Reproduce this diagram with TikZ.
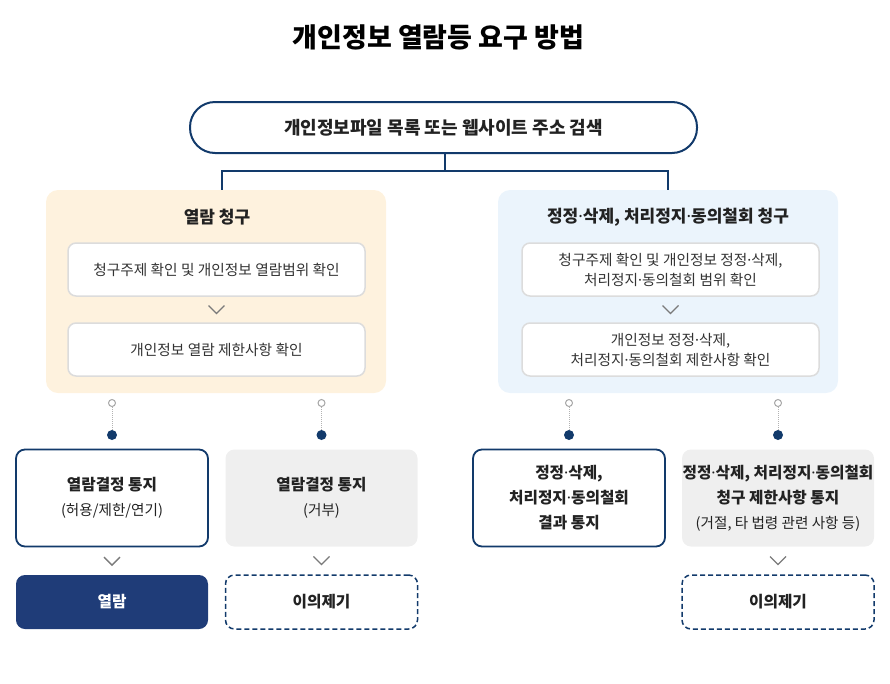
\documentclass[tikz,border=0pt]{standalone}
\usepackage{fontspec}
\setmainfont{Noto Sans CJK KR}
\newfontfamily\latinfont{Noto Sans}
\newcommand\md{{\latinfont ·}}
\definecolor{navy}{HTML}{123A6B}
\definecolor{navyfill}{HTML}{1F3C78}
\definecolor{yel}{HTML}{FEF2DE}
\definecolor{blu}{HTML}{EBF4FC}
\definecolor{gry}{HTML}{EFEFEF}
\definecolor{inb}{HTML}{DCDCDC}
\definecolor{txt}{HTML}{222222}
\definecolor{txtin}{HTML}{333333}
\definecolor{chevc}{HTML}{7A7A7A}
\newcommand\subtxt[1]{{\fontsize{14.6}{25}\selectfont\mdseries #1}}
\begin{document}
\begin{tikzpicture}[x=1pt,y=-1pt,
  bigbox/.style={rectangle,rounded corners=12pt,minimum width=340pt,minimum height=203pt,inner sep=0pt},
  inbox/.style={rectangle,rounded corners=8pt,draw=inb,line width=1.5pt,fill=white,minimum width=297pt,minimum height=53pt,inner sep=0pt,align=center,text=txtin,font=\fontsize{14.7}{20}\selectfont},
  resbox/.style={rectangle,rounded corners=9pt,minimum width=192pt,minimum height=97pt,inner sep=0pt,align=center,text=txt,font=\fontsize{15.7}{25}\selectfont},
  endbox/.style={rectangle,rounded corners=9pt,minimum width=192pt,minimum height=54pt,inner sep=0pt,align=center,font=\fontsize{15.7}{20}\selectfont\bfseries},
  conn/.style={draw=navy,line width=2pt},
  odot/.style={circle,draw=gray!70,fill=white,line width=1pt,minimum size=7pt,inner sep=0pt},
  fdot/.style={circle,fill=navy,minimum size=10pt,inner sep=0pt},
  dline/.style={draw=gray!60,line width=1pt,dash pattern=on 1pt off 1pt},
  chev/.style={draw=chevc,line width=1.3pt}
]
\useasboundingbox (0,0) rectangle (890,683);
% title
\node[text=black,font=\fontsize{27}{30}\selectfont\bfseries] (title) at (438.5,37) {개인정보 열람등 요구 방법};
% pill
\node[rectangle,rounded corners=25pt,draw=navy,line width=2pt,fill=white,minimum width=507pt,minimum height=51pt,inner sep=0pt,text=txt,font=\fontsize{18}{20}\selectfont\bfseries] (pill) at (443.5,127.5) {개인정보파일 목록 또는 웹사이트 주소 검색};
% big boxes
\node[bigbox,fill=yel] (lbox) at (216,291.5) {};
\node[bigbox,fill=blu] (rbox) at (668,291.5) {};
\coordinate (j) at (445,171);
\draw[conn] (pill.south -| j) -- (j);
\draw[conn] ([xshift=6pt]lbox.north) |- (j) -| (rbox.north);
\node[text=txt,font=\fontsize{17}{20}\selectfont\bfseries] (ltitle) at (217,217) {열람 청구};
\node[text=txt,font=\fontsize{17}{20}\selectfont\bfseries] (rtitle) at (668,217) {정정\md 삭제, 처리정지\md 동의철회 청구};
% inner boxes
\node[inbox] (l1) at (216.5,269.5) {청구주제 확인 및 개인정보 열람범위 확인};
\node[inbox] (l2) at (216.5,349.5) {개인정보 열람 제한사항 확인};
\node[inbox] (r1) at (670.5,269.5) {청구주제 확인 및 개인정보 정정\md 삭제,\\처리정지\md 동의철회 범위 확인};
\node[inbox] (r2) at (670.5,349.5) {개인정보 정정\md 삭제,\\처리정지\md 동의철회 제한사항 확인};
\path (l1.south) -- (l2.north) coordinate[midway] (cl);
\path (r1.south) -- (r2.north) coordinate[midway] (cr);
\draw[chev] ([xshift=-8pt,yshift=4pt]cl) -- ([yshift=-4pt]cl) -- ([xshift=8pt,yshift=4pt]cl);
\draw[chev] ([xshift=-8pt,yshift=4pt]cr) -- ([yshift=-4pt]cr) -- ([xshift=8pt,yshift=4pt]cr);
% result boxes
\node[resbox,draw=navy,line width=1.8pt,fill=white] (a) at (112,498) {\textbf{열람결정 통지}\\\subtxt{(허용/제한/연기)}};
\node[resbox,fill=gry] (b) at (321.5,498) {\textbf{열람결정 통지}\\\subtxt{(거부)}};
\node[resbox,draw=navy,line width=1.8pt,fill=white] (c) at (569,498) {\textbf{정정\md 삭제,}\\\textbf{처리정지\md 동의철회}\\\textbf{결과 통지}};
\node[resbox,fill=gry] (d) at (778,498) {\textbf{정정\md 삭제, 처리정지\md 동의철회}\\\textbf{청구 제한사항 통지}\\\subtxt{(거절, 타 법령 관련 사항 등)}};
% dots
\foreach \n/\x in {1/112,2/321.5,3/569,4/778}{
  \node[odot] (o\n) at (\x,403) {};
  \node[fdot] (f\n) at (\x,435) {};
  \draw[dline] (o\n) -- (f\n);
}
% end boxes
\node[endbox,fill=navyfill,text=white] (e1) at (112,602) {열람};
\node[endbox,draw=navy,line width=1.5pt,dash pattern=on 5pt off 3pt,fill=white,text=txt] (e2) at (321.5,602) {이의제기};
\node[endbox,draw=navy,line width=1.5pt,dash pattern=on 5pt off 3pt,fill=white,text=txt] (e3) at (778,602) {이의제기};
\foreach \u/\v in {a/e1,b/e2,d/e3}{
  \path (\u.south) -- (\v.north) coordinate[midway] (m\u);
  \draw[chev] ([xshift=-8pt,yshift=4pt]m\u) -- ([yshift=-4pt]m\u) -- ([xshift=8pt,yshift=4pt]m\u);
}
\end{tikzpicture}
\end{document}
